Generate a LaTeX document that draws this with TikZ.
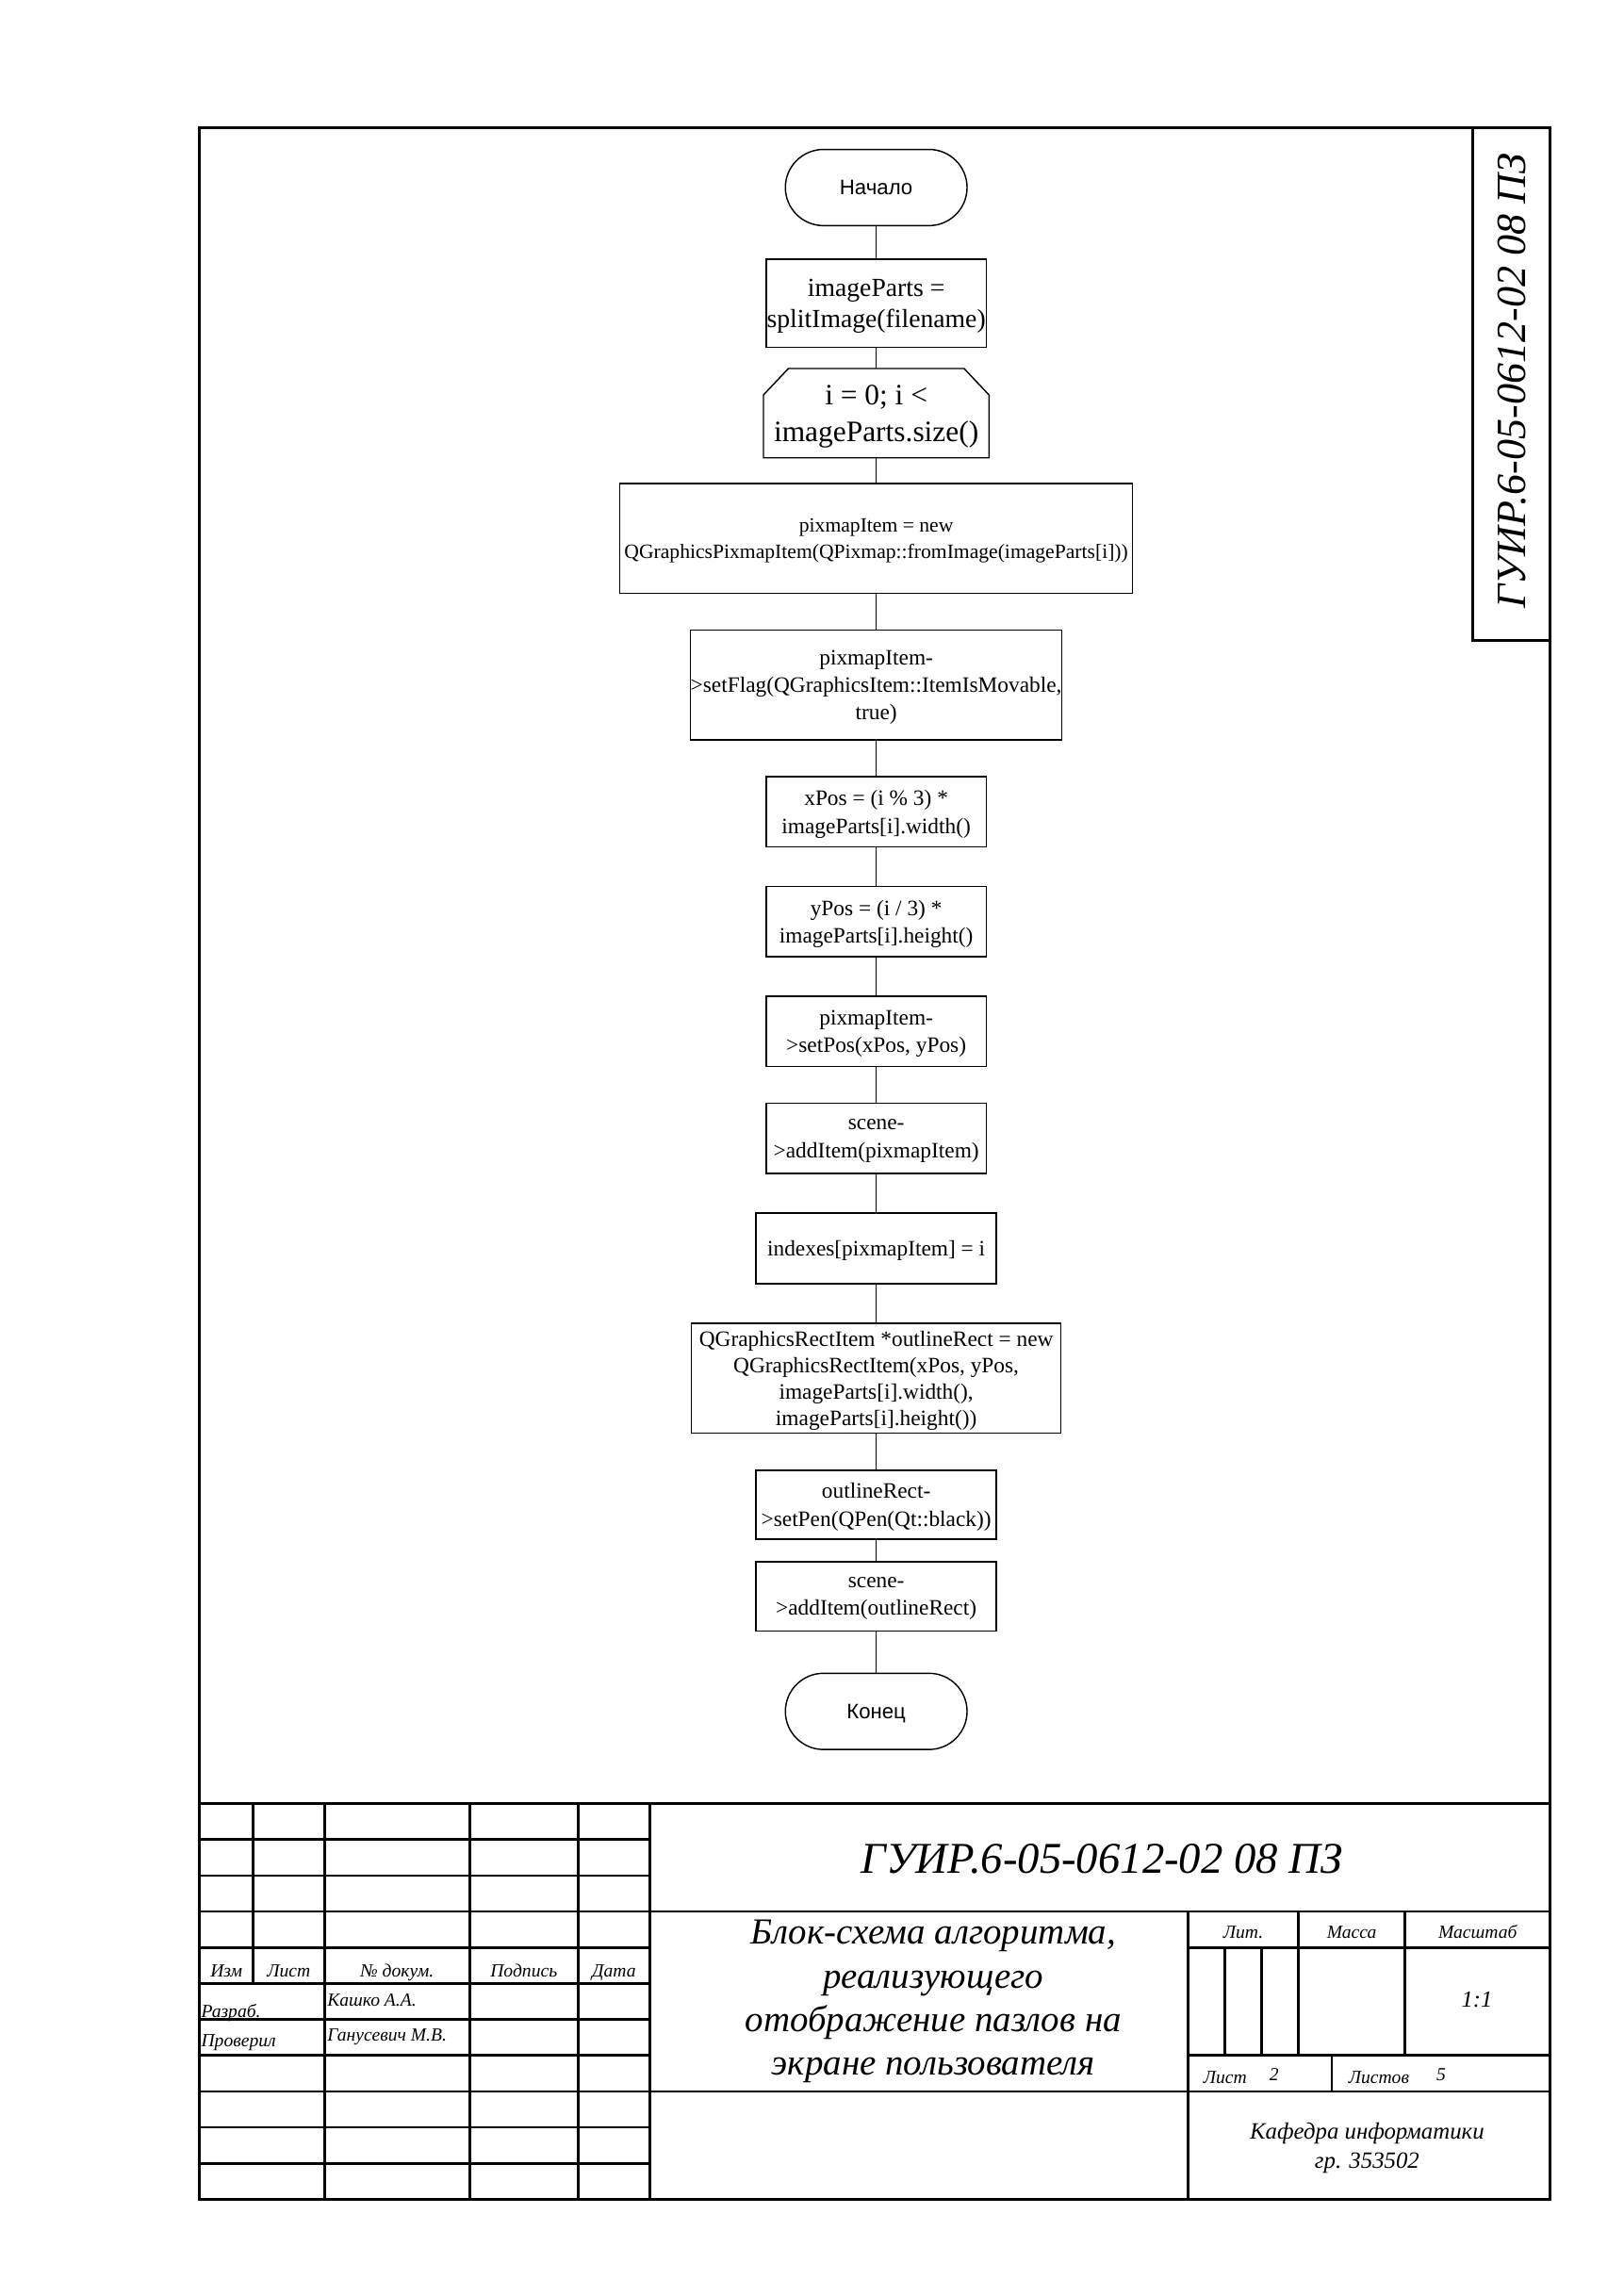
\documentclass[tikz,border=0pt]{standalone}
\usepackage{fontspec}
\setmainfont{Liberation Serif}
\newfontfamily\sansf{Liberation Sans}
\usetikzlibrary{calc}
\newdimen\ulen \ulen=0.189531mm
\tikzset{
  flow/.style={draw, line width=0.5pt, inner sep=0pt, align=center, text depth=0pt, font=\fontsize{8.1}{10.2}\selectfont},
  wh/.style 2 args={minimum width=#1\ulen, minimum height=#2\ulen},
  term/.style={flow, rounded corners=26\ulen, wh={124}{52}, font=\sansf\fontsize{7.7}{9.4}\selectfont},
  conn/.style={line width=0.5pt},
  frame/.style={line width=0.95pt, line cap=rect},
  lbl/.style={inner sep=0pt, font=\itshape\fontsize{6.8}{8}\selectfont},
}
\begin{document}
\begin{tikzpicture}[x=0.189531mm, y=-0.189531mm]
\useasboundingbox (0,0) rectangle (1108,1567);

% ---------- flowchart ----------
\node[term] (start) at (598,128) {Начало};
\node[flow, wh={150}{60}, font=\fontsize{9.6}{11.4}\selectfont] (b1) at (598,207) {imageParts =\\splitImage(filename)};
\node[flow, draw=none, wh={153}{60}, font=\fontsize{10.9}{13.5}\selectfont] (lp) at (598,282) {i = 0; i <\\imageParts.size()};
\draw[conn] (lp.south west) -- ($(lp.north west)+(0,18)$) -- ($(lp.north west)+(17,0)$) -- ($(lp.north east)+(-17,0)$) -- ($(lp.north east)+(0,18)$) -- (lp.south east) -- cycle;
\node[flow, wh={350}{75}, font=\fontsize{7.5}{9.7}\selectfont] (b3) at (598,367.5) {pixmapItem = new\\QGraphicsPixmapItem(QPixmap::fromImage(imageParts[i]))};
\node[flow, wh={250}{75}, font=\fontsize{8.1}{10}\selectfont] (b4) at (598,467.5) {pixmapItem-\\>setFlag(QGraphicsItem::ItemIsMovable,\\true)};
\node[flow, wh={150}{48}] (b5) at (598,554) {xPos = (i \% 3) *\\imageParts[i].width()};
\node[flow, wh={150}{48}] (b6) at (598,629) {yPos = (i / 3) *\\imageParts[i].height()};
\node[flow, wh={150}{48}] (b7) at (598,704) {pixmapItem-\\>setPos(xPos, yPos)};
\node[flow, wh={150}{48}] (b8) at (598,777) {scene-\\>addItem(pixmapItem)};
\node[flow, wh={164}{48}] (b9) at (598,852) {indexes[pixmapItem] = i};
\node[flow, wh={252}{75}, font=\fontsize{8.1}{9.75}\selectfont] (b10) at (598,940.5) {QGraphicsRectItem *outlineRect = new\\QGraphicsRectItem(xPos, yPos,\\imageParts[i].width(),\\imageParts[i].height())};
\node[flow, wh={164}{47}] (b11) at (598,1027) {outlineRect-\\>setPen(QPen(Qt::black))};
\node[flow, wh={164}{47}] (b12) at (598,1089.5) {scene-\\>addItem(outlineRect)};
\node[term] (end) at (598,1168) {Конец};

\draw[conn] (start) -- (b1);
\draw[conn] (b1) -- (lp);
\draw[conn] (lp) -- (b3);
\draw[conn] (b3) -- (b4);
\draw[conn] (b4) -- (b5);
\draw[conn] (b5) -- (b6);
\draw[conn] (b6) -- (b7);
\draw[conn] (b7) -- (b8);
\draw[conn] (b8) -- (b9);
\draw[conn] (b9) -- (b10);
\draw[conn] (b10) -- (b11);
\draw[conn] (b11) -- (b12);
\draw[conn] (b12) -- (end);

% ---------- frame ----------
\draw[frame] (136,87) rectangle (1058,1501);
\draw[frame] (1005,87) -- (1005,437) -- (1058,437);
\node[rotate=90, inner sep=0pt, font=\itshape\fontsize{15.3}{18}\selectfont] (stamp) at (1032,260) {ГУИР.6-05-0612-02 08 ПЗ};

% ---------- title block ----------
\draw[frame] (136,1231) -- (1058,1231);
\foreach \y in {1255.5,1280.1,1304.6,1329.2,1353.7,1378.3,1402.8,1427.4,1451.9,1476.5}
  \draw[frame] (136,\y) -- (443.4,\y);
\draw[frame] (172.5,1231) -- (172.5,1353.7);
\foreach \x in {221.4,320.5,394.5,443.4}
  \draw[frame] (\x,1231) -- (\x,1501);
\draw[frame] (443.4,1304.6) -- (1058,1304.6);
\draw[frame] (443.4,1427.4) -- (1058,1427.4);
\draw[frame] (811,1304.6) -- (811,1501);
\draw[frame] (811,1329.2) -- (1058,1329.2);
\draw[frame] (811,1402.8) -- (1058,1402.8);
\draw[frame] (886,1304.6) -- (886,1402.8);
\draw[frame] (959,1304.6) -- (959,1402.8);
\draw[frame] (836,1329.2) -- (836,1402.8);
\draw[frame] (861,1329.2) -- (861,1402.8);
\draw[frame] (909,1402.8) -- (909,1427.4);

\node[lbl, anchor=base] (izm) at (154.5,1349) {Изм};
\node[lbl, anchor=base] (list) at (197,1349) {Лист};
\node[lbl, anchor=base] (ndoc) at (271,1349) {№ докум.};
\node[lbl, anchor=base] (podp) at (357.5,1349) {Подпись};
\node[lbl, anchor=base] (data) at (419,1349) {Дата};
\node[lbl, anchor=base west] (razr) at (137,1377) {Разраб.};
\node[lbl, anchor=base west] (prov) at (137,1397) {Проверил};
\node[lbl, anchor=base west] (kashko) at (223,1369) {Кашко А.А.};
\node[lbl, anchor=base west] (ganus) at (223,1393) {Ганусевич М.В.};

\node[inner sep=0pt, font=\itshape\fontsize{16.2}{19}\selectfont] (code) at (752,1269) {ГУИР.6-05-0612-02 08 ПЗ};
\node[inner sep=0pt, align=center, font=\itshape\fontsize{13.5}{16}\selectfont] (title) at (637,1366) {Блок-схема алгоритма,\\реализующего\\отображение пазлов на\\экране пользователя};

\node[lbl, anchor=base] (lit) at (848.5,1323) {Лит.};
\node[lbl, anchor=base] (massa) at (922.5,1323) {Масса};
\node[lbl, anchor=base] (masht) at (1008.5,1323) {Масштаб};
\node[inner sep=0pt, font=\itshape\fontsize{8.5}{10}\selectfont] (scale) at (1008,1365) {1:1};
\node[lbl, anchor=base west] (sheet) at (821,1422) {Лист};
\node[lbl, anchor=base west] (sheetn) at (866,1420) {2};
\node[lbl, anchor=base west] (sheets) at (920,1422) {Листов};
\node[lbl, anchor=base west] (sheetsn) at (980,1420) {5};
\node[inner sep=0pt, align=center, font=\itshape\fontsize{8.6}{10.9}\selectfont] (kaf) at (933,1466) {Кафедра информатики\\гр. 353502};
\end{tikzpicture}
\end{document}
